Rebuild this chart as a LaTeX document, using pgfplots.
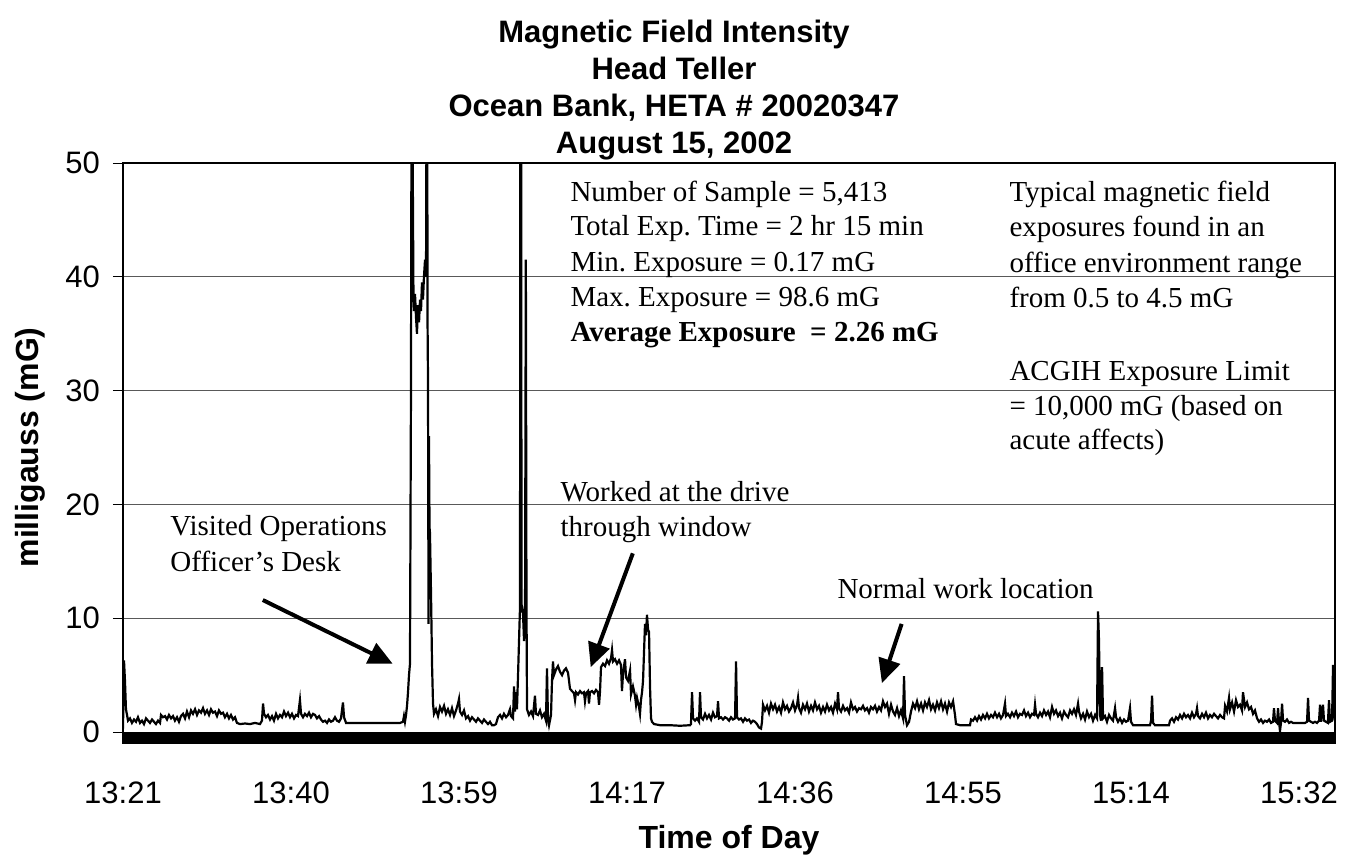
\documentclass[border=0pt]{standalone}
\usepackage{pgfplots}
\pgfplotsset{compat=1.18}
\usepackage{fontspec}
\setmainfont{Liberation Serif}
\newfontfamily\arial{Liberation Sans}
\usetikzlibrary{arrows.meta}
\newcommand\annot{\rmfamily\fontsize{14.5}{17}\selectfont}
\frenchspacing
\begin{document}
\begin{tikzpicture}
\useasboundingbox (0,0) rectangle (674pt,429.5pt);
\begin{axis}[
  at={(61.5pt,57.8pt)}, anchor=south west,
  scale only axis, width=606pt, height=290.2pt,
  xmin=0, xmax=135.27, ymin=-1, ymax=50,
  clip mode=individual,
  axis line style={black, line width=0.6pt},
  xtick={0,18.75,37.5,56.25,75,93.75,112.5,131.25},
  xticklabels={13:21,13:40,13:59,14:17,14:36,14:55,15:14,15:32},
  major x tick style={draw=none},
  ytick={0,10,20,30,40,50},
  ytick pos=left, xtick pos=bottom,
  tick align=outside, major tick length=5pt,
  major y tick style={black, line width=0.5pt},
  ymajorgrids, grid style={black!65, line width=0.5pt},
  /pgf/number format/assume math mode=true,
  ticklabel style={font=\arial\fontsize{15.5}{18}\selectfont},
  yticklabel style={xshift=-3pt},
  xticklabel style={anchor=base, yshift=-25pt},
  xlabel={Time of Day},
  ylabel={milligauss (mG)},
  label style={font=\arial\bfseries\fontsize{16}{19}\selectfont},
  xlabel style={at={(axis description cs:0.5,0)}, anchor=center, yshift=-48.5pt},
  ylabel style={at={(axis description cs:0,0.51)}, anchor=center, yshift=46.5pt},
]
\addplot[fill=black, draw=black, line width=0.3pt, forget plot] coordinates {(0,-1) (135.27,-1) (135.27,-0.05) (0,-0.05)} -- cycle;
\addplot[black, line width=1.1pt] coordinates {
(0.00,0.3)(0.11,6.3)(0.22,4.5)(0.33,2.0)(0.45,1.5)(0.56,1.0)(0.78,1.2)(1.00,0.8)(1.23,1.1)(1.45,0.9)(1.67,1.3)(1.90,0.8)(2.12,1.0)(2.34,0.7)(2.57,1.2)(2.79,1.0)(3.01,0.8)(3.24,1.1)(3.46,0.9)(3.68,0.7)(3.91,1.0)(4.13,0.8)(4.24,1.5)(4.46,1.3)(4.69,1.4)(4.91,1.1)(5.13,1.5)(5.36,1.2)(5.58,1.4)(5.80,1.0)(6.03,1.3)(6.25,0.9)(6.47,1.4)(6.70,1.6)(6.92,1.2)(7.14,1.8)(7.37,1.3)(7.59,1.9)(7.81,1.6)(8.04,2.0)(8.26,1.5)(8.48,1.9)(8.71,1.7)(8.93,2.1)(9.15,1.6)(9.38,1.9)(9.60,1.5)(9.82,2.0)(10.04,1.7)(10.27,1.8)(10.49,1.4)(10.71,1.9)(10.94,1.6)(11.16,1.7)(11.38,1.3)(11.61,1.6)(11.83,1.2)(12.05,1.5)(12.28,1.1)(12.50,1.3)(12.72,0.8)(13.06,0.7)(13.62,0.75)(14.17,0.7)(14.73,0.8)(15.29,0.7)(15.51,1.0)(15.63,2.5)(15.74,1.6)(15.96,1.3)(16.18,1.5)(16.41,1.1)(16.63,1.4)(16.85,1.0)(17.08,1.6)(17.30,1.2)(17.52,1.5)(17.75,1.3)(17.97,1.8)(18.19,1.4)(18.42,1.7)(18.64,1.3)(18.86,1.6)(19.09,1.2)(19.31,1.5)(19.53,1.4)(19.75,2.8)(19.87,1.6)(20.09,1.3)(20.31,1.6)(20.54,1.4)(20.76,1.7)(20.98,1.3)(21.21,1.6)(21.43,1.5)(21.65,1.2)(21.88,1.4)(22.10,1.1)(22.32,0.9)(22.55,1.0)(22.77,0.8)(22.99,1.1)(23.21,0.9)(23.44,1.0)(23.66,1.3)(23.88,1.0)(24.11,0.9)(24.33,1.2)(24.55,2.6)(24.67,1.3)(24.89,0.8)(25.34,0.8)(26.45,0.8)(27.57,0.8)(28.68,0.8)(29.80,0.8)(30.92,0.8)(31.25,0.9)(31.36,1.4)(31.47,0.9)(31.59,1.5)(31.70,2.3)(31.81,3.5)(31.92,5.0)(32.03,6.0)(32.14,30)(32.20,55)(32.26,60)(32.37,45)(32.42,38)(32.48,37)(32.59,38.5)(32.70,36.5)(32.81,35)(32.92,37.5)(33.04,36)(33.15,38)(33.26,37)(33.37,39.5)(33.48,38)(33.59,40)(33.71,41.5)(33.82,40)(33.93,70)(33.99,36)(34.04,31)(34.10,9.5)(34.15,26)(34.21,18)(34.26,17.5)(34.38,12)(34.49,6)(34.60,2.5)(34.71,1.6)(34.93,2.0)(35.16,1.4)(35.38,2.2)(35.60,1.8)(35.83,2.3)(36.05,1.6)(36.27,2.0)(36.50,1.5)(36.72,2.1)(36.94,1.4)(37.17,1.9)(37.39,2.5)(37.50,2.9)(37.61,1.8)(37.84,1.5)(38.06,1.9)(38.28,1.2)(38.51,1.4)(38.73,1.0)(38.95,1.3)(39.18,1.1)(39.40,0.9)(39.62,1.2)(39.84,1.0)(40.07,0.8)(40.29,1.1)(40.51,0.9)(40.74,0.7)(40.96,0.9)(41.18,0.6)(41.41,0.6)(41.63,0.7)(41.85,1.3)(42.08,1.5)(42.30,1.2)(42.52,1.6)(42.75,1.3)(42.97,1.5)(43.19,2.0)(43.30,1.4)(43.53,1.2)(43.64,4.0)(43.75,1.8)(43.86,3.5)(43.97,2.0)(44.09,5.0)(44.20,8.0)(44.31,11)(44.39,98.6)(44.48,10.5)(44.53,11)(44.64,10.5)(44.76,8)(44.87,10)(44.96,41.5)(45.03,12)(45.09,2.0)(45.31,1.5)(45.54,1.8)(45.76,1.4)(45.98,3.2)(46.09,1.6)(46.32,1.5)(46.54,1.9)(46.76,1.3)(46.99,1.6)(47.21,1.0)(47.32,5.6)(47.43,1.2)(47.55,0.6)(47.77,1.5)(47.88,4.5)(47.99,6.2)(48.10,5.0)(48.33,5.5)(48.55,5.8)(48.77,5.3)(49.00,5.0)(49.22,5.4)(49.44,5.6)(49.67,5.2)(49.78,4.5)(49.89,3.8)(50.11,3.6)(50.34,3.4)(50.45,2.8)(50.56,3.5)(50.78,3.3)(51.01,3.6)(51.23,3.4)(51.45,3.5)(51.56,2.7)(51.68,3.4)(51.90,3.6)(52.01,2.5)(52.12,3.5)(52.35,3.6)(52.57,3.4)(52.79,3.7)(53.01,3.5)(53.13,2.4)(53.24,3.6)(53.35,5.7)(53.57,6.0)(53.80,5.8)(54.02,6.3)(54.24,6.0)(54.47,6.5)(54.58,7.2)(54.69,6.2)(54.91,6.4)(55.14,6.0)(55.36,6.3)(55.58,5.9)(55.69,3.6)(55.81,5.2)(56.03,6.4)(56.14,4.8)(56.36,4.5)(56.59,5.4)(56.70,3.3)(56.92,4.0)(57.14,3.2)(57.26,2.4)(57.37,3.0)(57.59,2.2)(57.70,1.6)(57.81,2.8)(57.93,3.5)(58.04,4.5)(58.15,7.0)(58.26,9.5)(58.37,8.5)(58.48,10.3)(58.60,9.0)(58.71,8.8)(58.82,4.0)(58.93,1.2)(59.04,0.9)(59.27,0.7)(59.94,0.6)(61.05,0.6)(62.17,0.55)(63.28,0.6)(63.39,0.7)(63.51,3.5)(63.62,1.2)(63.84,1.0)(64.06,1.2)(64.29,0.9)(64.40,3.5)(64.51,1.3)(64.73,1.1)(64.96,1.6)(65.18,1.2)(65.40,1.5)(65.63,1.1)(65.85,1.7)(66.07,1.3)(66.30,1.4)(66.41,2.7)(66.52,1.2)(66.74,1.3)(66.97,1.1)(67.19,1.3)(67.41,1.2)(67.64,1.0)(67.86,1.3)(68.08,1.1)(68.31,1.2)(68.42,6.2)(68.53,1.3)(68.75,1.1)(68.97,1.2)(69.20,0.9)(69.42,1.2)(69.64,1.0)(69.87,1.1)(70.09,0.8)(70.31,1.0)(70.54,0.9)(70.76,0.7)(70.98,0.4)(71.21,0.3)(71.32,0.9)(71.43,2.4)(71.65,1.9)(71.88,2.3)(72.10,1.7)(72.32,2.5)(72.55,2.0)(72.77,2.4)(72.99,1.8)(73.22,2.2)(73.44,1.7)(73.66,2.6)(73.89,2.0)(74.11,2.3)(74.33,1.8)(74.56,2.1)(74.78,2.6)(75.00,1.9)(75.23,2.4)(75.34,3.0)(75.45,2.1)(75.67,1.7)(75.89,2.4)(76.12,2.0)(76.34,2.5)(76.56,1.8)(76.79,2.3)(77.01,1.9)(77.23,2.6)(77.46,2.0)(77.68,2.3)(77.90,1.7)(78.13,2.2)(78.35,1.8)(78.57,2.4)(78.80,1.9)(79.02,2.2)(79.24,1.7)(79.47,2.5)(79.69,2.0)(79.80,3.5)(79.91,2.1)(80.14,1.8)(80.36,2.3)(80.58,1.9)(80.81,2.1)(81.03,1.7)(81.25,2.6)(81.48,2.0)(81.70,2.2)(81.92,1.8)(82.15,2.1)(82.37,2.0)(82.59,2.3)(82.81,1.9)(83.04,2.1)(83.26,1.7)(83.48,2.2)(83.71,2.0)(83.93,2.3)(84.15,1.8)(84.38,2.2)(84.60,1.9)(84.82,2.7)(85.05,2.2)(85.27,2.5)(85.49,1.6)(85.72,2.4)(85.94,1.8)(86.16,1.5)(86.39,2.1)(86.61,1.4)(86.83,1.9)(87.06,1.2)(87.17,4.9)(87.28,1.5)(87.50,0.6)(87.73,0.9)(87.95,1.8)(88.17,2.5)(88.40,2.1)(88.62,2.7)(88.84,2.0)(89.07,2.5)(89.29,1.9)(89.51,2.6)(89.73,2.2)(89.96,2.8)(90.18,2.0)(90.40,2.4)(90.63,1.9)(90.85,2.6)(91.07,2.1)(91.30,2.7)(91.52,2.0)(91.74,2.5)(91.97,1.8)(92.19,2.6)(92.41,2.2)(92.64,2.7)(92.86,1.5)(92.97,0.7)(93.42,0.6)(93.98,0.6)(94.53,0.6)(94.65,1.1)(94.87,1.0)(95.09,1.3)(95.32,1.0)(95.54,1.4)(95.76,1.1)(95.98,1.5)(96.21,1.2)(96.43,1.6)(96.65,1.2)(96.88,1.5)(97.10,1.3)(97.32,1.7)(97.55,1.3)(97.77,1.6)(97.99,1.2)(98.22,1.5)(98.44,2.5)(98.55,1.4)(98.77,1.6)(99.00,1.3)(99.22,1.7)(99.44,1.4)(99.67,1.8)(99.89,1.3)(100.11,1.6)(100.34,1.5)(100.56,1.9)(100.78,1.4)(101.01,1.7)(101.23,1.3)(101.45,1.6)(101.68,1.5)(101.79,2.4)(101.90,1.6)(102.12,1.3)(102.35,1.7)(102.57,1.4)(102.79,1.9)(103.02,1.5)(103.24,1.8)(103.46,1.3)(103.69,2.2)(103.91,1.6)(104.13,1.9)(104.36,1.4)(104.58,1.7)(104.80,1.2)(105.03,1.8)(105.25,1.5)(105.47,1.3)(105.70,1.9)(105.92,1.6)(106.14,2.0)(106.36,1.5)(106.59,2.5)(106.70,1.8)(106.92,1.2)(107.15,1.6)(107.37,1.1)(107.59,1.8)(107.82,1.3)(108.04,1.6)(108.26,1.0)(108.49,1.5)(108.71,1.2)(108.82,10.6)(108.93,8.0)(109.04,1.5)(109.15,1.0)(109.27,5.7)(109.38,1.2)(109.60,1.4)(109.82,0.9)(110.05,1.5)(110.27,1.2)(110.49,1.0)(110.72,2.1)(110.83,1.3)(111.05,0.9)(111.27,1.2)(111.50,0.8)(111.72,1.1)(111.94,0.9)(112.17,1.0)(112.39,2.1)(112.50,0.9)(112.73,0.6)(113.51,0.6)(114.07,0.6)(114.62,0.6)(114.74,1.0)(114.85,3.2)(114.96,0.8)(115.18,0.6)(115.74,0.6)(116.30,0.6)(116.74,0.6)(116.86,1.0)(117.08,1.2)(117.30,0.9)(117.53,1.3)(117.75,1.1)(117.97,1.5)(118.20,1.2)(118.42,1.6)(118.64,1.3)(118.86,1.5)(119.09,1.2)(119.31,1.7)(119.53,1.3)(119.76,1.6)(119.87,2.1)(119.98,1.4)(120.20,1.2)(120.43,1.6)(120.65,1.3)(120.87,1.7)(121.10,1.2)(121.32,1.5)(121.54,1.3)(121.77,1.6)(121.99,1.4)(122.21,1.2)(122.44,1.5)(122.66,1.3)(122.88,1.2)(123.00,2.3)(123.22,1.8)(123.44,3.0)(123.55,2.0)(123.78,2.6)(124.00,1.8)(124.22,2.8)(124.44,2.2)(124.67,2.4)(124.89,1.9)(125.00,3.5)(125.23,2.2)(125.45,2.6)(125.67,2.0)(125.90,2.2)(126.12,1.6)(126.34,1.9)(126.57,1.2)(126.79,0.9)(127.01,1.1)(127.24,0.8)(127.46,1.0)(127.68,0.9)(127.91,1.1)(128.13,0.8)(128.35,0.9)(128.46,2.1)(128.57,1.0)(128.80,0.8)(128.91,2.1)(129.02,0.9)(129.13,0.1)(129.24,0.8)(129.36,2.5)(129.47,1.0)(129.69,0.9)(129.91,1.1)(130.14,0.8)(130.36,0.9)(130.58,0.8)(131.03,0.8)(131.48,0.8)(131.92,0.8)(132.15,0.9)(132.26,3.0)(132.37,1.0)(132.59,0.9)(132.81,0.8)(133.04,0.9)(133.26,0.8)(133.49,1.0)(133.60,2.4)(133.71,0.9)(133.93,2.4)(134.04,1.0)(134.26,0.9)(134.48,0.8)(134.60,2.8)(134.71,0.9)(134.94,1.0)(135.05,5.9)(135.16,1.5)(135.27,1.0)
};
% statistics block
\node[anchor=base west, font=\annot, inner sep=0] at (axis cs:49.9,46.6) {Number of Sample = 5,413};
\node[anchor=base west, font=\annot, inner sep=0] at (axis cs:49.9,43.6) {Total Exp. Time = 2 hr 15 min};
\node[anchor=base west, font=\annot, inner sep=0] at (axis cs:49.9,40.5) {Min. Exposure = 0.17 mG};
\node[anchor=base west, font=\annot, inner sep=0] at (axis cs:49.9,37.4) {Max. Exposure = 98.6 mG};
\node[anchor=base west, font=\annot\bfseries, inner sep=0] at (axis cs:49.9,34.3) {Average Exposure\ \ = 2.26 mG};
% right block
\node[anchor=base west, font=\annot, inner sep=0] at (axis cs:98.9,46.6) {Typical magnetic field};
\node[anchor=base west, font=\annot, inner sep=0] at (axis cs:98.9,43.5) {exposures found in an};
\node[anchor=base west, font=\annot, inner sep=0] at (axis cs:98.9,40.4) {office environment range};
\node[anchor=base west, font=\annot, inner sep=0] at (axis cs:98.9,37.3) {from 0.5 to 4.5 mG};
\node[anchor=base west, font=\annot, inner sep=0] at (axis cs:98.9,30.9) {ACGIH Exposure Limit};
\node[anchor=base west, font=\annot, inner sep=0] at (axis cs:98.9,27.8) {= 10,000 mG (based on};
\node[anchor=base west, font=\annot, inner sep=0] at (axis cs:98.9,24.8) {acute affects)};
% annotations
\node[anchor=base west, font=\annot, inner sep=0] at (axis cs:48.8,20.3) {Worked at the drive};
\node[anchor=base west, font=\annot, inner sep=0] at (axis cs:48.8,17.2) {through window};
\node[anchor=base west, font=\annot, inner sep=0] at (axis cs:5.25,17.3) {Visited Operations};
\node[anchor=base west, font=\annot, inner sep=0] at (axis cs:5.25,14.1) {Officer’s Desk};
\node[anchor=base west, font=\annot, inner sep=0] at (axis cs:79.7,11.7) {Normal work location};
\draw[line width=2pt, -{Triangle[length=12pt, width=11pt]}] (axis cs:15.6,11.6) -- (axis cs:30.1,6.0);
\draw[line width=2pt, -{Triangle[length=12pt, width=11pt]}] (axis cs:56.9,15.7) -- (axis cs:52.2,5.7);
\draw[line width=2pt, -{Triangle[length=12pt, width=11pt]}] (axis cs:86.9,9.5) -- (axis cs:84.7,4.3);
\end{axis}
% title
\begin{scope}[every node/.style={anchor=base, inner sep=0, font=\arial\bfseries\fontsize{15.5}{18}\selectfont}]
\node at (337pt,408pt) {Magnetic Field Intensity};
\node at (337pt,389.5pt) {Head Teller};
\node at (337pt,371pt) {Ocean Bank, HETA \# 20020347};
\node at (337pt,352.5pt) {August 15, 2002};
\end{scope}
\end{tikzpicture}
\end{document}
